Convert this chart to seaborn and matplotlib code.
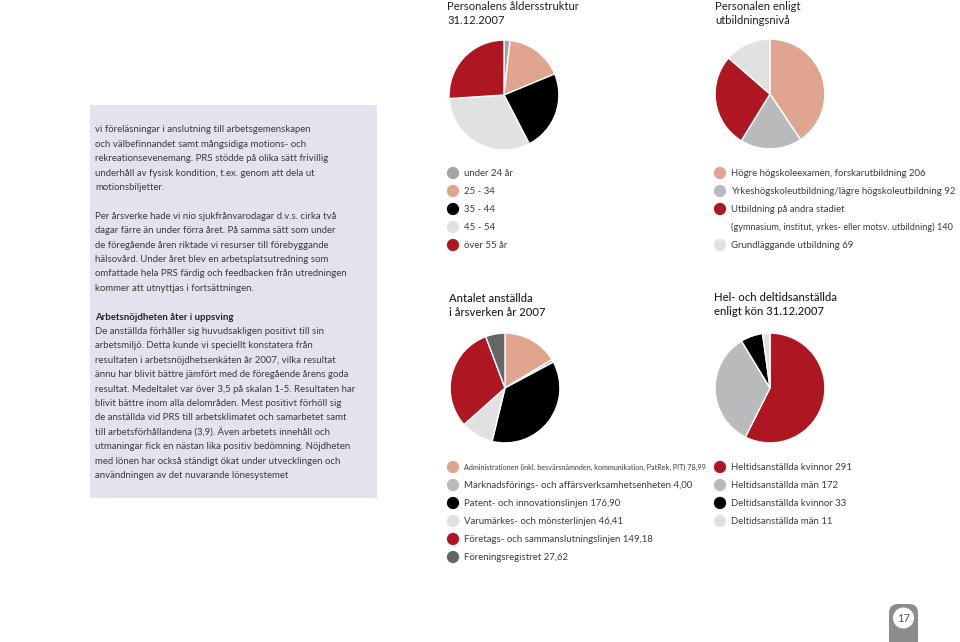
import matplotlib
matplotlib.use('Agg')
import matplotlib.pyplot as plt
import seaborn as sns
from matplotlib.patches import Rectangle, FancyBboxPatch, Circle

sns.set_theme(style='white')
plt.rcParams['font.family'] = ['Lato', 'DejaVu Sans']

# data
age_labels = ['under 24 år', '25 - 34', '35 - 44', '45 - 54', 'över 55 år']
age_counts = [9, 86, 120, 160, 132]

edu_labels = ['Högre högskoleexamen, forskarutbildning',
              'Yrkeshögskoleutbildning/lägre högskoleutbildning',
              'Utbildning på andra stadiet\n(gymnasium, institut, yrkes- eller motsv. utbildning)',
              'Grundläggande utbildning']
edu_counts = [206, 92, 140, 69]

unit_labels = ['Administrationen (inkl. besvärsnämnden, kommunikation, PatRek, PIT)',
               'Marknadsförings- och affärsverksamhetsenheten',
               'Patent- och innovationslinjen',
               'Varumärkes- och mönsterlinjen',
               'Företags- och sammanslutningslinjen',
               'Föreningsregistret']
unit_fte = [78.99, 4.00, 176.90, 46.41, 149.18, 27.62]

gender_labels = ['Heltidsanställda kvinnor', 'Heltidsanställda män',
                 'Deltidsanställda kvinnor', 'Deltidsanställda män']
gender_counts = [291, 172, 33, 11]

para1 = ['vi föreläsningar i anslutning till arbetsgemenskapen',
         'och välbefinnandet samt mångsidiga motions- och',
         'rekreationsevenemang. PRS stödde på olika sätt frivillig',
         'underhåll av fysisk kondition, t.ex. genom att dela ut',
         'motionsbiljetter.']
para2 = ['Per årsverke hade vi nio sjukfrånvarodagar d.v.s. cirka två',
         'dagar färre än under förra året. På samma sätt som under',
         'de föregående åren riktade vi resurser till förebyggande',
         'hälsovård. Under året blev en arbetsplatsutredning som',
         'omfattade hela PRS färdig och feedbacken från utredningen',
         'kommer att utnyttjas i fortsättningen.']
heading3 = 'Arbetsnöjdheten åter i uppsving'
para3 = ['De anställda förhåller sig huvudsakligen positivt till sin',
         'arbetsmiljö. Detta kunde vi speciellt konstatera från',
         'resultaten i arbetsnöjdhetsenkäten år 2007, vilka resultat',
         'ännu har blivit bättre jämfört med de föregående årens goda',
         'resultat. Medeltalet var över 3,5 på skalan 1-5. Resultaten har',
         'blivit bättre inom alla delområden. Mest positivt förhöll sig',
         'de anställda vid PRS till arbetsklimatet och samarbetet samt',
         'till arbetsförhållandena (3,9). Även arbetets innehåll och',
         'utmaningar fick en nästan lika positiv bedömning. Nöjdheten',
         'med lönen har också ständigt ökat under utvecklingen och',
         'användningen av det nuvarande lönesystemet']

salmon = '#e0a58f'
red = '#ae1622'
black = '#000000'
light = '#e1e1e1'
mid = '#b9babc'
grey24 = '#a3a4a6'
dark = '#646567'

age_colors = [grey24, salmon, black, light, red]
edu_colors = [salmon, mid, red, light]
unit_colors = [salmon, mid, black, light, red, dark]
gender_colors = [red, mid, black, light]

W, H = 960, 642
fig = plt.figure(figsize=(W / 100, H / 100), dpi=100)

# page canvas in pixel units
bg = fig.add_axes([0, 0, 1, 1])
bg.set_xlim(0, W)
bg.set_ylim(H, 0)
bg.axis('off')

text_col = '#3b3b3b'
bg.add_patch(Rectangle((90, 105), 287, 393, color='#e2e3ee', lw=0))

y = 130
step = 14.4
for line in para1:
    bg.text(95, y, line, fontsize=6.9, color=text_col, va='center')
    y += step
y += step
for line in para2:
    bg.text(95, y, line, fontsize=6.9, color=text_col, va='center')
    y += step
y += step
bg.text(95, y, heading3, fontsize=6.9, color='#222222', va='center', fontweight='bold')
y += step
for line in para3:
    bg.text(95, y, line, fontsize=6.9, color=text_col, va='center')
    y += step


def pie_at(cx, cy, r, values, colors):
    ax = fig.add_axes([(cx - r) / W, 1 - (cy + r) / H, 2 * r / W, 2 * r / H])
    ax.pie(values, colors=colors, startangle=90, counterclock=False,
           wedgeprops=dict(edgecolor='white', linewidth=1.0))
    ax.set_xlim(-1.02, 1.02)
    ax.set_ylim(-1.02, 1.02)
    ax.axis('off')
    return ax


def legend_at(x, y0, labels, colors, fs=6.9, fs_first=None):
    row = 0
    for i, (lab, col) in enumerate(zip(labels, colors)):
        yy = y0 + row * 18
        bg.scatter([x], [yy], s=78, color=col, edgecolors='none', zorder=3)
        size = fs_first if (i == 0 and fs_first) else fs
        for j, part in enumerate(lab.split('\n')):
            # wrapped continuation lines are set a touch tighter
            bg.text(x + 11, yy + j * 18, part, fontsize=size if j == 0 else size * 0.95,
                    color=text_col, va='center')
        row += len(lab.split('\n'))


def title_at(x, y, txt, weight='normal'):
    bg.text(x, y, txt, fontsize=8.1, color='#1e1e1e', va='top', linespacing=1.3,
            fontweight=weight)


title_at(447, 1.5, 'Personalens åldersstruktur\n31.12.2007')
title_at(715, 1.5, 'Personalen enligt\nutbildningsnivå')
title_at(449, 293, 'Antalet anställda\ni årsverken år 2007', 'medium')
title_at(714, 292, 'Hel- och deltidsanställda\nenligt kön 31.12.2007', 'medium')

pie_at(504, 95, 56, age_counts, age_colors)
pie_at(770, 94, 56, edu_counts, edu_colors)
pie_at(505, 388, 56, unit_fte, unit_colors)
pie_at(770, 388, 56, gender_counts, gender_colors)

legend_at(453, 173, age_labels, age_colors)

edu_text = [f'{lab} {v}' for lab, v in zip(edu_labels, edu_counts)]
legend_at(720, 173, edu_text, edu_colors)

unit_text = [lab + ' ' + f'{v:.2f}'.replace('.', ',') for lab, v in zip(unit_labels, unit_fte)]
legend_at(453, 467, unit_text, unit_colors, fs_first=5.2)

gender_text = [f'{lab} {v}' for lab, v in zip(gender_labels, gender_counts)]
legend_at(720, 467, gender_text, gender_colors)

# page number tab
bg.add_patch(FancyBboxPatch((889, 604), 29, 50, boxstyle='round,pad=0,rounding_size=9',
                            color='#8c8c8c', lw=0))
bg.add_patch(Circle((903.5, 618), 10.5, color='white', lw=0))
bg.text(903.5, 618, '17', fontsize=8, color='#555555', ha='center', va='center')

fig.savefig('out.png', dpi=100)
